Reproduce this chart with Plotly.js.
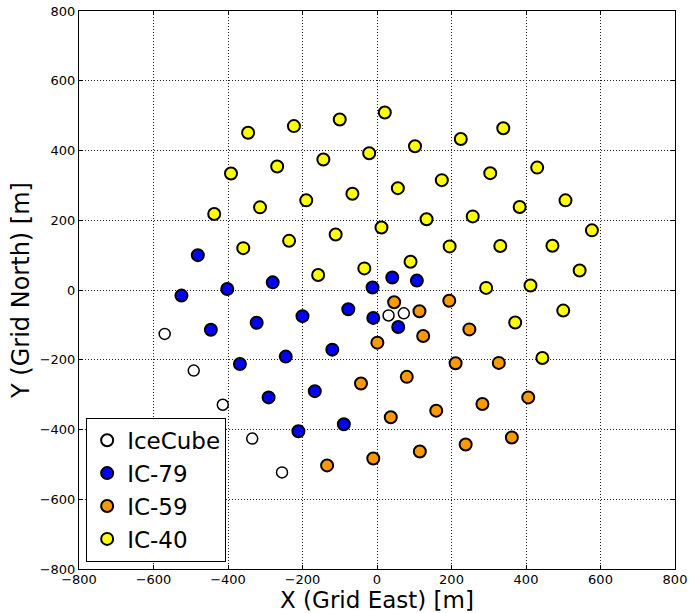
<!DOCTYPE html>
<html>
<head>
<meta charset="utf-8">
<script src="https://cdn.plot.ly/plotly-3.0.1.min.js"></script>
<style>html,body{margin:0;padding:0;background:#fff;}#chart{width:690px;height:613px;}</style>
</head>
<body>
<div id="chart"></div>
<script>
// IceCube strings added in IC-86 (not in IC-79)
const icecubeX = [-570, -492, -414, -335, -255, 31, 72];
const icecubeY = [-126, -231, -329, -426, -523, -73, -67];

// IC-79 strings (not in IC-59)
const ic79X = [-481, -402, -280, -12, -525, 41, 107, -446, -323, -200, -77, -10, 57, -368, -245, -120, -291, -167, -211, -89];
const ic79Y = [100, 3, 22, 7, -16, 36, 27, -114, -94, -75, -55, -80, -106, -212, -191, -171, -308, -290, -405, -385];

// IC-59 strings (not in IC-40)
const ic59X = [1, -43, -134, -10, 46, 114, 194, 124, 248, 211, 327, 80, 406, 283, 159, 37, 362, 238, 115];
const ic59Y = [-151, -268, -503, -483, -35, -61, -31, -132, -113, -210, -209, -249, -308, -327, -346, -365, -423, -443, -463];

// IC-40 strings
const ic40X = [-346, -223, -100, 21, -21, -144, -268, -392, -437, -314, -190, -66, 12, -111, -236, -359, -158, -34,
  102, 225, 339, 56, 174, 304, 430, 133, 257, 383, 506, 577, 195, 331, 471, 544, 90, 293, 412, 371, 500, 444];
const ic40Y = [451, 470, 489, 509, 392, 374, 354, 334, 218, 237, 257, 276, 179, 159, 141, 120, 43, 62,
  412, 433, 464, 292, 315, 335, 351, 203, 211, 238, 257, 171, 125, 126, 127, 56, 81, 6, 13, -93, -59, -195];

const seriesNames = ['IceCube', 'IC-79', 'IC-59', 'IC-40'];
const axisTicks = [-800, -600, -400, -200, 0, 200, 400, 600, 800];

const FONT = 'DejaVu Sans, sans-serif';

function tr(name, x, y, color, size, lw) {
  return {
    type: 'scatter', mode: 'markers', name: name, x: x, y: y,
    marker: {symbol: 'circle', color: color, size: size, line: {color: '#000', width: lw}},
    hoverinfo: 'skip'
  };
}

const data = [
  tr(seriesNames[0], icecubeX, icecubeY, '#ffffff', 11, 1.5),
  tr(seriesNames[1], ic79X, ic79Y, '#0000ff', 12, 2),
  tr(seriesNames[2], ic59X, ic59Y, '#ff9900', 12, 2),
  tr(seriesNames[3], ic40X, ic40Y, '#ffff00', 12, 2)
];

const axisCommon = {
  range: [-800, 800],
  tickmode: 'array',
  tickvals: axisTicks,
  ticks: 'inside',
  ticklen: 4,
  tickwidth: 1,
  tickcolor: '#000',
  mirror: 'allticks',
  showline: true,
  linecolor: '#000',
  linewidth: 1,
  showgrid: true,
  gridcolor: '#222',
  gridwidth: 1,
  griddash: '1px,2px',
  zeroline: false,
  tickfont: {family: FONT, size: 13, color: '#000'},
  fixedrange: true
};

const layout = {
  width: 690, height: 613,
  margin: {l: 79, r: 15, t: 11, b: 44, pad: 0},
  paper_bgcolor: '#fff', plot_bgcolor: '#fff',
  font: {family: FONT, color: '#000'},
  xaxis: Object.assign({}, axisCommon, {
    ticklabelstandoff: -2,
    title: {text: 'X (Grid East) [m]', font: {family: FONT, size: 23, color: '#000'}}
  }),
  yaxis: Object.assign({}, axisCommon, {
    title: {text: 'Y (Grid North) [m]', font: {family: FONT, size: 24, color: '#000'}, standoff: 3}
  }),
  showlegend: true,
  legend: {
    x: 0.012, y: 0.013, xanchor: 'left', yanchor: 'bottom',
    bgcolor: '#fff', bordercolor: '#000', borderwidth: 1,
    font: {family: FONT, size: 23, color: '#000'},
    itemsizing: 'constant',
    tracegroupgap: 0
  }
};

Plotly.newPlot('chart', data, layout, {staticPlot: true, displayModeBar: false});
</script>
</body>
</html>
